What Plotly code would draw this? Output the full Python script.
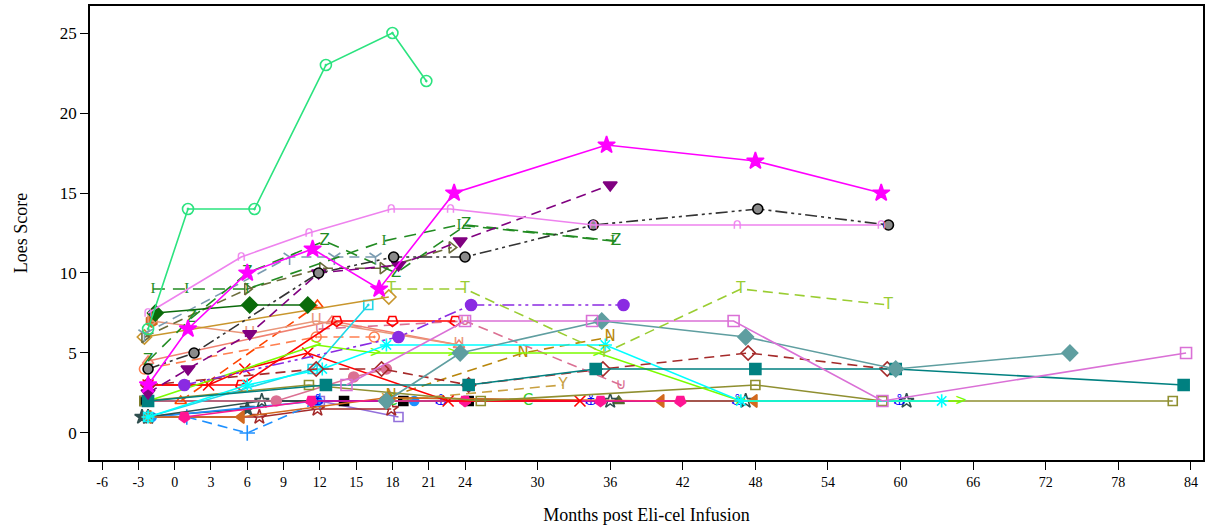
import plotly.graph_objects as go

# ---------------- data (months post infusion, Loes score) ----------------
p01_month = [-2.2, 1.1, 6.6, 12.5, 18, 20.8]
p01_loes = [6.5, 14, 14, 23, 25, 22]
p02_month = [-2.2, 1.1, 6, 11.4, 16.9, 23.1, 35.7, 48, 58.4]
p02_loes = [3, 6.5, 10, 11.5, 9, 15, 18, 17, 15]
p03_month = [-2.2, 5.5, 11.1, 17.9, 22.8, 34.6, 46.5, 58.4]
p03_loes = [7.5, 11, 12.5, 14, 14, 13, 13, 13]
p04_month = [-2.2, 1.6, 11.9, 18.1, 24, 34.6, 48.2, 59]
p04_loes = [4, 5, 10, 11, 11, 13, 14, 13]
p05_month = [-2.2, 1.1, 6.2, 11.9, 18.5, 23.6, 36]
p05_loes = [2.5, 4, 6.2, 10, 10.5, 12, 15.5]
p06_month = [-1.8, 1, 6, 17.3, 23.5, 36.2]
p06_loes = [9, 9, 9, 12, 13, 12]
p07_month = [-2.2, 1.4, 6, 12.4, 18.3, 24.1, 36.5]
p07_loes = [4.5, 7.2, 10, 12, 10, 13, 12]
p08_month = [-1.6, 6.2, 11]
p08_loes = [7.5, 8, 8]
p09_month = [-2.5, 17.7]
p09_loes = [6, 8.5]
p10_month = [17.9, 24, 35.5, 46.8, 59]
p10_loes = [9, 9, 5, 9, 8]
p11_month = [0.8, 18.5, 24.5, 37.1]
p11_loes = [3, 6, 8, 8]
p12_month = [14.2, 24, 34.5, 46.2, 58.5, 83.6]
p12_loes = [3, 7, 7, 7, 2, 5]
p13_month = [17.5, 23.6, 35.3, 47.2, 59.6, 74]
p13_loes = [2, 5, 7, 6, 4, 5]
p14_month = [-2.2, 12.5, 24.3, 34.8, 48, 59.6, 83.4]
p14_loes = [2, 3, 3, 4, 4, 4, 3]
p15_month = [-2.2, 11.7, 17.1, 24.3, 35.4, 47.4, 58.9]
p15_loes = [3, 4, 4, 3, 4, 5, 4]
p16_month = [-2.2, 6, 12.2, 17.5, 35.6, 46.8, 63.4]
p16_loes = [1, 3, 4, 5.5, 5.5, 2, 2]
p17_month = [-2.2, 11.4, 16]
p17_loes = [1, 4, 8]
p18_month = [-2.2, 11.7, 16.6, 23, 35, 46.8, 65]
p18_loes = [2, 5.5, 5, 5, 5, 2, 2]
p19_month = [-2.5, 11.1, 25.3, 48, 58.5, 82.5]
p19_loes = [2, 3, 2, 3, 2, 2]
p20_month = [-2.2, 2.8, 5.8, 11, 22.6, 33.5]
p20_loes = [3, 3, 4, 5, 2, 2]
p21_month = [-2.2, 5.5, 13.4, 18, 23.2]
p21_loes = [3, 3, 7, 7, 7]
p22_month = [0.8, 11.3, 24, 35.2, 41.8]
p22_loes = [1, 2, 2, 2, 2]
p23_month = [-2.2, 5.5, 17.5, 40.2, 47.9]
p23_loes = [1, 1, 2.2, 2, 2]
p24_month = [-1.9, 6.2, 11.7, 23.5]
p24_loes = [7, 6.2, 7, 5.5]
p25_month = [-2.2, 13, 23.5]
p25_loes = [4.5, 7, 5.5]
p26_month = [-1.9]
p26_loes = [7]
p27_month = [-2.5, 11.7, 16.5]
p27_loes = [4, 6, 6]
p28_month = [0.5, 11.8]
p28_loes = [2, 8]
p29_month = [-2.2, 8.4, 14.8, 17.5]
p29_loes = [2, 2, 3.5, 4]
p30_month = [12, 24, 36.9]
p30_loes = [6.5, 7, 3]
p31_month = [17.9, 28.8, 36]
p31_loes = [2.3, 5, 6]
p32_month = [17.5, 32.1]
p32_loes = [2, 3]
p33_month = [18, 29.2]
p33_loes = [2, 2]
p34_month = [11.8, 22, 34.4, 46.5, 59.9]
p34_loes = [2, 2, 2, 2, 2]
p35_month = [-2.2, 7.2, 36, 47.2, 60.5]
p35_loes = [1, 2, 2, 2, 2]
p36_month = [17.7, 36.7]
p36_loes = [2.2, 2]
p37_month = [-2.5, 14, 18.9, 24.3]
p37_loes = [2, 2, 2, 2]
p38_month = [1, 6, 12]
p38_loes = [1, 0, 2]
p39_month = [-1.9, 11.8, 19.8]
p39_loes = [1, 2, 2]
p40_month = [-2.2, 7, 11.8, 17.9]
p40_loes = [1, 1, 1.5, 1.5]
p41_month = [12, 18.5]
p41_loes = [2, 1]
p42_month = [-2.7, 6]
p42_loes = [1, 1.5]
p44_month = [-2.5, 9.5, 13.2, 16.6]
p44_loes = [6.2, 11, 11, 11]
p45_month = [-2.5, 6, 12.2, 17.2, 22.9]
p45_loes = [6, 9, 10.3, 10.3, 11.6]

x_tick_vals = [-6, -3, 0, 3, 6, 9, 12, 15, 18, 21, 24, 30, 36, 42, 48, 54, 60, 66, 72, 78, 84]
y_tick_vals = [0, 5, 10, 15, 20, 25]

# ---------------- styles ----------------
DASH = "10px,6px"
DASHDOT = "12px,4px,3px,4px,3px,4px"
SERIF = "Liberation Serif, Times New Roman, serif"

series = [
    (p42_month, p42_loes, dict(c="#2F4F4F", d="solid", s="star", z=11)),
    (p41_month, p41_loes, dict(c="#9370DB", d="solid", s="square-open", z=9)),
    (p40_month, p40_loes, dict(c="#A52A2A", d="solid", s="star-open", z=11)),
    (p39_month, p39_loes, dict(c="#1E90FF", d="solid", s="circle", z=9)),
    (p38_month, p38_loes, dict(c="#1E90FF", d=DASH, s="cross-thin-open", z=11)),
    (p37_month, p37_loes, dict(c="#000000", d="solid", s="square", z=9)),
    (p36_month, p36_loes, dict(c="#556B2F", d="solid", s="triangle-up", z=10)),
    (p35_month, p35_loes, dict(c="#2F4F4F", d="solid", s="star-open", z=11)),
    (p34_month, p34_loes, dict(c="#0000FF", d="solid", t="⚓")),
    (p33_month, p33_loes, dict(c="#32CD32", d="solid", t="C")),
    (p32_month, p32_loes, dict(c="#C8A040", d=DASH, t="Y")),
    (p31_month, p31_loes, dict(c="#B8860B", d=DASH, t="N")),
    (p30_month, p30_loes, dict(c="#DB7093", d=DASH, t="⊍")),
    (p29_month, p29_loes, dict(c="#DB7093", d="solid", s="circle", z=10)),
    (p28_month, p28_loes, dict(c="#FF4500", d=DASH, s="triangle-up-open", z=10)),
    (p27_month, p27_loes, dict(c="#FF7F50", d=DASH, s="circle-open-dot", z=10)),
    (p26_month, p26_loes, dict(c="#D2691E", d="solid", s="hexagon", z=12)),
    (p25_month, p25_loes, dict(c="#F08070", d="solid", s="triangle-up-open", z=10)),
    (p24_month, p24_loes, dict(c="#E9967A", d="solid", t="U")),
    (p23_month, p23_loes, dict(c="#D2691E", d="solid", s="triangle-left", z=11)),
    (p22_month, p22_loes, dict(c="#FF1493", d="solid", s="pentagon", z=11, a=180)),
    (p21_month, p21_loes, dict(c="#FF0000", d="solid", s="pentagon-open", z=11, a=180)),
    (p20_month, p20_loes, dict(c="#FF0000", d="solid", s="x-thin-open", z=11)),
    (p19_month, p19_loes, dict(c="#8F8F30", d="solid", s="square-open", z=9)),
    (p18_month, p18_loes, dict(c="#7CFC00", d="solid", t=">")),
    (p17_month, p17_loes, dict(c="#20D8E8", d="solid", s="square-open-dot", z=9)),
    (p16_month, p16_loes, dict(c="#00FFFF", d="solid", s="asterisk-open", z=11)),
    (p15_month, p15_loes, dict(c="#A52A2A", d=DASH, s="diamond-open", z=11)),
    (p14_month, p14_loes, dict(c="#008080", d="solid", s="square", z=11)),
    (p13_month, p13_loes, dict(c="#5F9EA0", d="solid", s="diamond", z=12)),
    (p12_month, p12_loes, dict(c="#DA70D6", d="solid", s="square-open", z=11)),
    (p11_month, p11_loes, dict(c="#8A2BE2", d=DASHDOT, s="circle", z=11)),
    (p10_month, p10_loes, dict(c="#9ACD32", d=DASH, t="T")),
    (p09_month, p09_loes, dict(c="#C8962D", d="solid", s="diamond-open", z=11)),
    (p45_month, p45_loes, dict(c="#6B6B3A", d=DASH, s="triangle-right-open", z=10)),
    (p44_month, p44_loes, dict(c="#7A9BB0", d=DASH, s="y-down-open", z=10)),
    (p08_month, p08_loes, dict(c="#0B6B0B", d="solid", s="diamond", z=12)),
    (p07_month, p07_loes, dict(c="#228B22", d="12px,8px", t="Z")),
    (p06_month, p06_loes, dict(c="#228B22", d="12px,8px", t="I", f=SERIF)),
    (p05_month, p05_loes, dict(c="#800080", d=DASH, s="triangle-down", z=12)),
    (p04_month, p04_loes, dict(c="#333333", d=DASHDOT, s="circle", z=10, lc="#000000", mc="#8A8A8A")),
    (p03_month, p03_loes, dict(c="#EE82EE", d="solid", t="∩")),
    (p02_month, p02_loes, dict(c="#FF00FF", d="solid", s="star", z=13)),
    (p01_month, p01_loes, dict(c="#2BE37F", d="solid", s="circle-open-dot", z=11)),
]

fig = go.Figure()
for months, loes, st in series:
    line = dict(color=st["c"], width=1.6, dash=st["d"])
    if "t" in st:
        fig.add_trace(go.Scatter(
            x=months, y=loes, mode="lines+text", line=line,
            text=[st["t"]] * len(months), textposition="middle center",
            textfont=dict(family=st.get("f", "DejaVu Sans"), size=15, color=st["c"]),
            showlegend=False, hoverinfo="skip"))
    else:
        marker = dict(symbol=st["s"], size=st["z"], color=st.get("mc", st["c"]),
                      line=dict(color=st.get("lc", st["c"]), width=1.6),
                      angle=st.get("a", 0))
        fig.add_trace(go.Scatter(
            x=months, y=loes, mode="lines+markers", line=line, marker=marker,
            showlegend=False, hoverinfo="skip"))

fig.update_layout(
    width=1207, height=529,
    margin=dict(l=90, r=2, t=6, b=69),
    paper_bgcolor="white", plot_bgcolor="white",
    font=dict(family=SERIF, color="black", size=15),
    showlegend=False,
    xaxis=dict(
        range=[-7, 85], tickmode="array", tickvals=x_tick_vals,
        ticktext=[str(v) for v in x_tick_vals],
        ticks="outside", ticklen=8, tickwidth=1, tickcolor="black",
        showline=True, linecolor="black", linewidth=1.5, mirror=True,
        showgrid=False, zeroline=False,
        tickfont=dict(family=SERIF, size=14),
        title=dict(text="Months post Eli-cel Infusion", standoff=20,
                   font=dict(family=SERIF, size=18)),
    ),
    yaxis=dict(
        range=[-1.69, 26.69], tickmode="array", tickvals=y_tick_vals,
        ticks="outside", ticklen=8, tickwidth=1, tickcolor="black",
        showline=True, linecolor="black", linewidth=1.5, mirror=True,
        showgrid=False, zeroline=False,
        tickfont=dict(family=SERIF, size=17),
        title=dict(text="Loes Score", standoff=28,
                   font=dict(family=SERIF, size=18)),
    ),
)

fig.write_html("out.html")
